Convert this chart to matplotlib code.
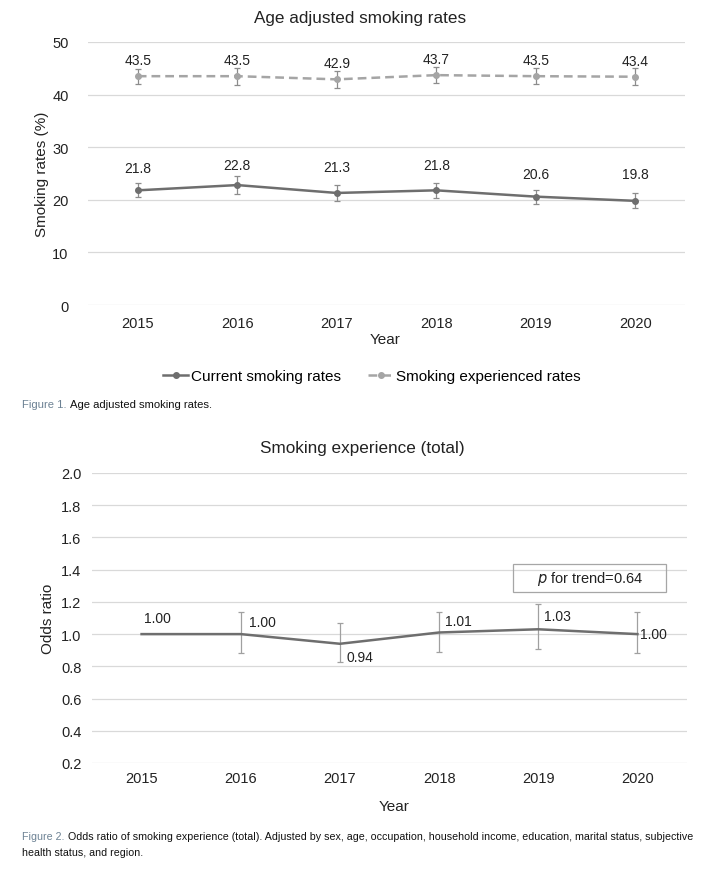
import matplotlib
matplotlib.use("Agg")
import matplotlib.pyplot as plt

SANS = "Liberation Sans"

# ---------------- data ----------------
years = ["2015", "2016", "2017", "2018", "2019", "2020"]
current_rates = [21.8, 22.8, 21.3, 21.8, 20.6, 19.8]
current_err = [1.35, 1.65, 1.6, 1.4, 1.35, 1.45]
experienced_rates = [43.5, 43.5, 42.9, 43.7, 43.5, 43.4]
experienced_err = [1.45, 1.6, 1.6, 1.5, 1.55, 1.6]

odds_ratio = [1.00, 1.00, 0.94, 1.01, 1.03, 1.00]
or_low = [1.00, 0.88, 0.83, 0.89, 0.91, 0.88]
or_high = [1.00, 1.14, 1.07, 1.14, 1.19, 1.14]
or_labels = ["1.00", "1.00", "0.94", "1.01", "1.03", "1.00"]
p_trend = "0.64"

# layout: label offsets in points
current_label_dy = [16, 14.5, 19, 18, 16, 19.5]
or_label_offsets = [(2, 11.5), (6, 9), (5, -9.5), (4.5, 8.5), (4, 9.5), (2, 0)]

W, H = 703, 870
fig = plt.figure(figsize=(W / 100, H / 100), dpi=100)

def ax_rect(l, r, t, b):
    return [l / W, 1 - b / H, (r - l) / W, (b - t) / H]

x = list(range(len(years)))
grid_c = "#d9d9d9"
dark = "#6e6e6e"
light = "#a5a5a5"
err_c = "#8c8c8c"
txt_c = "#222222"

# ---------------- Figure 1 ----------------
ax1 = fig.add_axes(ax_rect(88, 685, 43, 306))
ax1.set_xlim(-0.5, len(years) - 0.5)
ax1.set_ylim(0, 50)
ax1.set_yticks(range(0, 51, 10))
ax1.grid(axis="y", color=grid_c, linewidth=0.9)
ax1.set_axisbelow(True)
for s in ax1.spines.values():
    s.set_visible(False)
ax1.tick_params(length=0, labelsize=10.5, colors=txt_c)
ax1.tick_params(axis="x", pad=8)
ax1.tick_params(axis="y", pad=14)
ax1.set_xticks(x)
ax1.set_xticklabels(years)
for lab in ax1.get_xticklabels() + ax1.get_yticklabels():
    lab.set_fontfamily(SANS)

ax1.errorbar(x, current_rates, yerr=current_err, fmt="none", ecolor=err_c,
             elinewidth=0.9, capsize=2.3, capthick=0.9, zorder=2)
ax1.plot(x, current_rates, color=dark, linewidth=1.8, marker="o", markersize=4,
         label="Current smoking rates", zorder=3)
ax1.errorbar(x, experienced_rates, yerr=experienced_err, fmt="none", ecolor=err_c,
             elinewidth=0.9, capsize=2.3, capthick=0.9, zorder=2)
ax1.plot(x, experienced_rates, color=light, linewidth=1.8, linestyle=(0, (3.5, 2)),
         marker="o", markersize=4, label="Smoking experienced rates", zorder=3)

for xi, v in zip(x, experienced_rates):
    ax1.annotate(f"{v:.1f}", (xi, v), xytext=(0, 11.5), textcoords="offset points",
                 ha="center", va="center", fontsize=10, family=SANS, color=txt_c)
for xi, v, dy in zip(x, current_rates, current_label_dy):
    ax1.annotate(f"{v:.1f}", (xi, v), xytext=(0, dy), textcoords="offset points",
                 ha="center", va="center", fontsize=10, family=SANS, color=txt_c)

fig.text(360 / W, 1 - 18 / H, "Age adjusted smoking rates", ha="center", va="center",
         fontsize=12.3, family=SANS, color=txt_c)
ax1.set_ylabel("Smoking rates (%)", fontsize=11, family=SANS, color=txt_c, labelpad=2.5)
fig.text(385 / W, 1 - 340 / H, "Year", ha="center", va="center", fontsize=11,
         family=SANS, color=txt_c)
fig.legend(loc="center", bbox_to_anchor=(372 / W, 1 - 377 / H), ncol=2,
           frameon=False, handlelength=1.64, handletextpad=0.2,
           columnspacing=1.77, prop={"family": SANS, "size": 11})

fig.text(22 / W, 1 - 405 / H, "Figure 1.", ha="left", va="center", fontsize=8.1,
         family=SANS, color="#6d8294")
fig.text(70 / W, 1 - 405 / H, "Age adjusted smoking rates.", ha="left", va="center",
         fontsize=8.1, family=SANS, color="#111111")

# ---------------- Figure 2 ----------------
ax2 = fig.add_axes(ax_rect(92, 687, 474, 764))
ax2.set_xlim(-0.5, len(years) - 0.5)
ax2.set_ylim(0.2, 2.0)
ticks2 = [0.2 + 0.2 * i for i in range(10)]
ax2.set_yticks(ticks2)
ax2.set_yticklabels([f"{t:.1f}" for t in ticks2])
ax2.grid(axis="y", color=grid_c, linewidth=0.9)
ax2.set_axisbelow(True)
for s in ax2.spines.values():
    s.set_visible(False)
ax2.tick_params(length=0, labelsize=10.5, colors=txt_c)
ax2.tick_params(axis="x", pad=6)
ax2.tick_params(axis="y", pad=7.5)
ax2.set_xticks(x)
ax2.set_xticklabels(years)
for lab in ax2.get_xticklabels() + ax2.get_yticklabels():
    lab.set_fontfamily(SANS)

lo = [v - l for v, l in zip(odds_ratio, or_low)]
hi = [h - v for v, h in zip(odds_ratio, or_high)]
ax2.errorbar(x[1:], odds_ratio[1:], yerr=[lo[1:], hi[1:]], fmt="none", ecolor="#a0a0a0",
             elinewidth=0.9, capsize=2.3, capthick=0.9, zorder=2)
ax2.plot(x, odds_ratio, color=dark, linewidth=1.8, zorder=3)
for xi, v, t, off in zip(x, odds_ratio, or_labels, or_label_offsets):
    ax2.annotate(t, (xi, v), xytext=off, textcoords="offset points", ha="left",
                 va="center", fontsize=10, family=SANS, color=txt_c)

fig.patches.append(plt.Rectangle((513 / W, 1 - 593 / H), (666 - 513) / W, 28 / H,
                                 transform=fig.transFigure, fill=False,
                                 edgecolor="#a6a6a6", linewidth=0.9, figure=fig))
fig.text(590 / W, 1 - 579 / H, r"$\it{p}$ for trend=" + p_trend, ha="center",
         va="center", fontsize=10.5, family=SANS, color=txt_c)

fig.text(362 / W, 1 - 449 / H, "Smoking experience (total)", ha="center", va="center",
         fontsize=12.3, family=SANS, color=txt_c)
ax2.set_ylabel("Odds ratio", fontsize=11, family=SANS, color=txt_c, labelpad=4.5)
fig.text(394 / W, 1 - 807 / H, "Year", ha="center", va="center", fontsize=11,
         family=SANS, color=txt_c)

fig.text(22 / W, 1 - 837 / H, "Figure 2.", ha="left", va="center", fontsize=7.7,
         family=SANS, color="#6d8294")
fig.text(68 / W, 1 - 837 / H,
         "Odds ratio of smoking experience (total). Adjusted by sex, age, occupation, "
         "household income, education, marital status, subjective",
         ha="left", va="center", fontsize=7.7, family=SANS, color="#111111")
fig.text(22 / W, 1 - 853 / H, "health status, and region.", ha="left", va="center",
         fontsize=7.7, family=SANS, color="#111111")

fig.savefig("out.png", dpi=100)
